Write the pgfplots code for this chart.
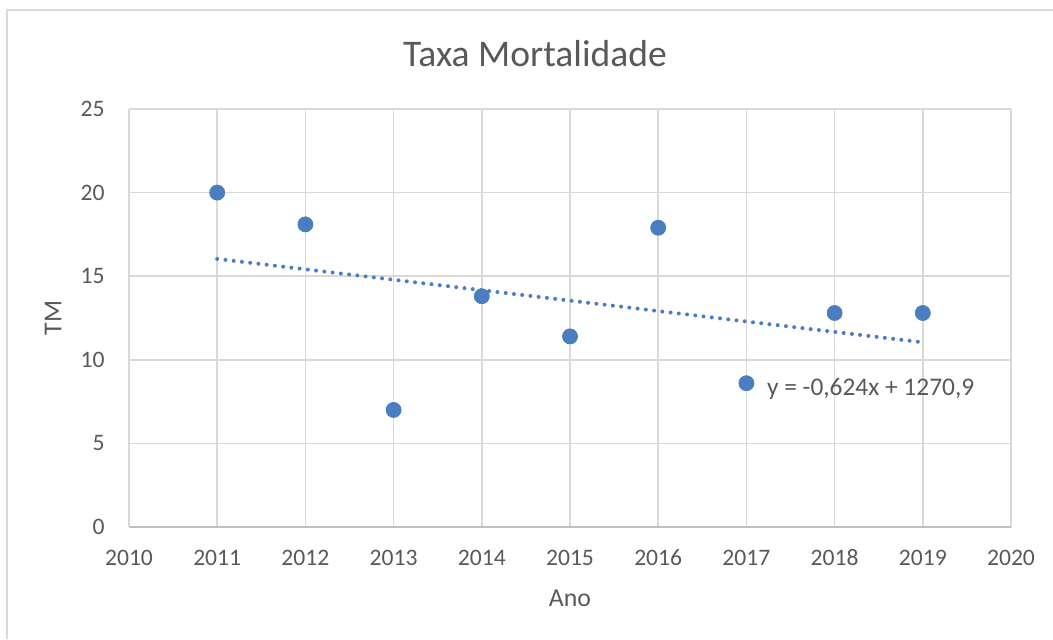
\documentclass[border=0pt]{standalone}
\usepackage{pgfplots}
\pgfplotsset{compat=1.18}
\usepackage{fontspec}
\setmainfont{Carlito}
\definecolor{ptblue}{HTML}{4A7EC0}
\definecolor{txtgray}{HTML}{595959}
\definecolor{gridgray}{HTML}{D9D9D9}
\definecolor{axgray}{HTML}{BFBFBF}
\begin{document}
\begin{tikzpicture}
\useasboundingbox (0pt,0pt) rectangle (526.5pt,319.5pt);
\draw[gridgray, line width=1pt] (3.5pt,0pt) -- (3.5pt,314.5pt) -- (526.5pt,314.5pt);
\begin{axis}[
  at={(64.5pt,56pt)}, anchor=south west,
  scale only axis, width=441pt, height=209pt,
  xmin=2010, xmax=2020, ymin=0, ymax=25,
  xtick={2010,2011,...,2020}, ytick={0,5,...,25},
  /pgf/number format/assume math mode=true,
  xticklabel style={/pgf/number format/1000 sep={}, font=\fontsize{11.8}{14}\selectfont, text=txtgray, anchor=center, inner sep=0pt, yshift=-15.5pt},
  yticklabel style={font=\fontsize{11.8}{14}\selectfont, text=txtgray, anchor=east, inner sep=0pt, xshift=-12pt},
  major tick length=0pt,
  grid=major, grid style={gridgray, line width=0.75pt},
  axis x line*=bottom, axis y line*=left,
  x axis line style={axgray, line width=0.75pt, -},
  y axis line style={gridgray, line width=0.75pt, -},
  title={Taxa Mortalidade},
  title style={at={(axis description cs:0.4603,1)}, anchor=center, yshift=21.5pt, font=\fontsize{18.8}{22}\selectfont, text=txtgray},
  xlabel={Ano},
  xlabel style={at={(axis description cs:0.5,0)}, anchor=center, yshift=-35.5pt, font=\fontsize{12.9}{15}\selectfont, text=txtgray},
  ylabel={TM},
  ylabel style={at={(axis description cs:0,0.5)}, anchor=center, yshift=38pt, font=\fontsize{12.9}{15}\selectfont, text=txtgray},
  clip=false,
]
\addplot[ptblue, line width=2pt, line cap=round, dash pattern=on 0pt off 4.15pt] coordinates {
  (2011,16.036) (2019,11.044)
};
\addplot[only marks, mark=*, mark size=3.75pt, mark options={fill=ptblue, draw=ptblue}] coordinates {
  (2011,20.0) (2012,18.1) (2013,7.0) (2014,13.8) (2015,11.4)
  (2016,17.9) (2017,8.6) (2018,12.8) (2019,12.8)
};
\node[anchor=west, inner sep=0pt, text=txtgray, font=\fontsize{12.7}{15}\selectfont] at (axis cs:2017.23,8.25) {y = -0,624x + 1270,9};
\end{axis}
\end{tikzpicture}
\end{document}
